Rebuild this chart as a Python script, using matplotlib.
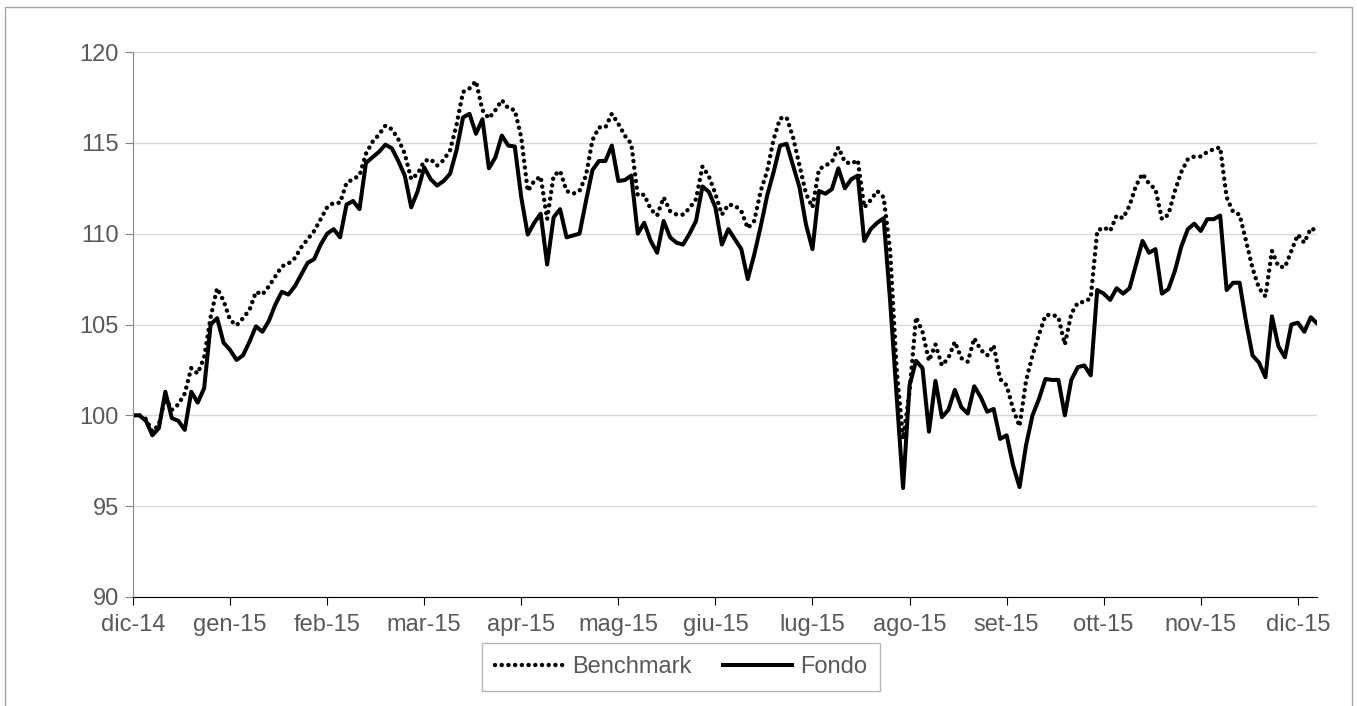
import numpy as np
import matplotlib.pyplot as plt
from matplotlib.patches import Rectangle

plt.rcParams['font.family'] = ['Liberation Sans', 'DejaVu Sans']

# month labels, one every 15 observations
months = ['dic-14', 'gen-15', 'feb-15', 'mar-15', 'apr-15', 'mag-15', 'giu-15',
          'lug-15', 'ago-15', 'set-15', 'ott-15', 'nov-15', 'dic-15']
pts_per_month = 15

# NAV of the fund, base 100
fondo = [
    100.0, 100.0, 99.7, 98.9, 99.3, 101.3, 99.85, 99.7, 99.2, 101.3, 100.7, 101.5, 105.0, 105.35, 104.0,
    103.6, 103.05, 103.3, 104.05, 104.9, 104.6, 105.2, 106.1, 106.8, 106.65, 107.1, 107.75, 108.4, 108.6, 109.4,
    110.0, 110.25, 109.8, 111.6, 111.8, 111.35, 113.9, 114.2, 114.5, 114.9, 114.7, 114.0, 113.2, 111.45, 112.35,
    113.65, 113.0, 112.65, 112.9, 113.3, 114.6, 116.4, 116.6, 115.5, 116.3, 113.6, 114.2, 115.4, 114.85, 114.8,
    112.0, 109.95, 110.6, 111.1, 108.3, 110.9, 111.35, 109.8, 109.9, 110.0, 111.8, 113.5, 114.0, 114.0, 114.85,
    112.9, 112.95, 113.2, 110.0, 110.6, 109.6, 108.95, 110.7, 109.8, 109.5, 109.4, 110.0, 110.7, 112.6, 112.3,
    111.45, 109.4, 110.25, 109.7, 109.15, 107.5, 108.85, 110.4, 112.1, 113.4, 114.85, 114.95, 113.75, 112.55, 110.5,
    109.15, 112.35, 112.2, 112.45, 113.6, 112.5, 113.0, 113.2, 109.6, 110.25, 110.6, 110.85, 106.3, 101.1, 96.0,
    101.65, 103.0, 102.6, 99.1, 101.9, 99.9, 100.3, 101.4, 100.45, 100.1, 101.6, 101.0, 100.2, 100.35, 98.7,
    98.9, 97.25, 96.05, 98.35, 100.0, 100.9, 102.0, 101.95, 101.95, 100.0, 101.95, 102.65, 102.75, 102.2, 106.9,
    106.7, 106.35, 107.0, 106.7, 107.0, 108.3, 109.6, 108.95, 109.15, 106.7, 106.95, 107.95, 109.3, 110.25, 110.55,
    110.15, 110.8, 110.8, 111.0, 106.9, 107.3, 107.3, 105.15, 103.3, 102.9, 102.1, 105.45, 103.8, 103.2, 105.0,
    105.1, 104.6, 105.4, 105.05,
]

benchmark = [
    100.0, 100.0, 99.8, 99.1, 99.5, 101.0, 100.3, 100.6, 101.2, 102.6, 102.3, 103.2, 105.4, 107.0, 106.3,
    105.25, 104.95, 105.35, 105.8, 106.8, 106.65, 107.1, 107.65, 108.2, 108.35, 108.65, 109.25, 109.7, 110.15, 110.8,
    111.45, 111.7, 111.7, 112.8, 113.0, 113.2, 114.4, 115.05, 115.45, 115.95, 115.75, 115.2, 114.4, 113.0, 113.3,
    114.0, 114.1, 113.75, 114.05, 114.6, 116.0, 117.8, 118.0, 118.4, 116.8, 116.35, 116.8, 117.35, 116.9, 116.8,
    115.3, 112.35, 112.9, 113.15, 110.8, 113.2, 113.45, 112.35, 112.2, 112.35, 113.2, 115.15, 115.85, 115.85, 116.6,
    116.05, 115.4, 114.95, 112.1, 112.15, 111.35, 111.0, 112.0, 111.25, 111.05, 111.05, 111.4, 111.9, 113.7, 113.15,
    112.2, 111.05, 111.6, 111.55, 111.25, 110.3, 110.7, 112.35, 113.45, 115.2, 116.35, 116.4, 115.3, 113.75, 112.2,
    111.45, 113.55, 113.75, 113.95, 114.75, 113.95, 113.85, 114.05, 111.45, 111.85, 112.35, 112.0, 109.05, 102.55, 98.7,
    101.3, 105.4, 104.6, 103.0, 103.9, 102.75, 103.15, 104.05, 103.15, 102.95, 104.25, 103.6, 103.3, 103.85, 102.0,
    101.65, 100.35, 99.4, 101.9, 103.3, 104.45, 105.5, 105.55, 105.4, 103.9, 105.6, 106.2, 106.25, 106.45, 110.15,
    110.35, 110.15, 111.0, 110.85, 111.55, 112.65, 113.3, 112.75, 112.45, 110.8, 111.05, 112.35, 113.4, 114.1, 114.25,
    114.25, 114.5, 114.65, 114.75, 112.0, 111.2, 111.05, 109.6, 108.1, 107.0, 106.55, 109.05, 108.2, 108.15, 109.05,
    109.95, 109.5, 110.3, 110.15,
]

grey_text = '#595959'
x = np.arange(len(fondo))

fig = plt.figure(figsize=(13.57, 7.06), dpi=100)
# thin grey frame around the whole chart
fig.patches.append(Rectangle((5 / 1357, -0.01), 1347 / 1357, 1.0, transform=fig.transFigure,
                             fill=False, edgecolor='#a6a6a6', linewidth=1))

ax = fig.add_axes([0.098, 0.1544, 0.8727, 0.7719])
ax.plot(x, benchmark, color='black', lw=3.2, linestyle=(0, (0.01, 1.5)),
        dash_capstyle='round', label='Benchmark')
ax.plot(x, fondo, color='black', lw=2.9, label='Fondo')

ax.set_xlim(0, len(fondo) - 1)
ax.set_ylim(90, 120)
ax.set_yticks(np.arange(90, 121, 5))
ax.set_xticks(np.arange(0, len(fondo), pts_per_month))
ax.set_xticklabels(months)

ax.grid(axis='y', color='#d9d9d9', lw=1)
ax.set_axisbelow(True)
for side in ['top', 'right']:
    ax.spines[side].set_visible(False)
ax.spines['left'].set_color('#868686')
ax.spines['bottom'].set_color('black')
ax.tick_params(axis='y', colors='#868686', labelcolor=grey_text, labelsize=17, length=6, pad=4)
ax.tick_params(axis='x', colors='black', labelcolor=grey_text, labelsize=17, length=6, pad=6)

leg = fig.legend(loc='center', bbox_to_anchor=(0.502, 0.055), ncol=2, fontsize=17,
                 frameon=True, fancybox=False, edgecolor='#a6a6a6', handlelength=2.9,
                 columnspacing=1.35, handletextpad=0.35, borderpad=0.55, borderaxespad=0)
for t in leg.get_texts():
    t.set_color(grey_text)
leg.get_frame().set_linewidth(1)

fig.savefig('out.png', dpi=100)
